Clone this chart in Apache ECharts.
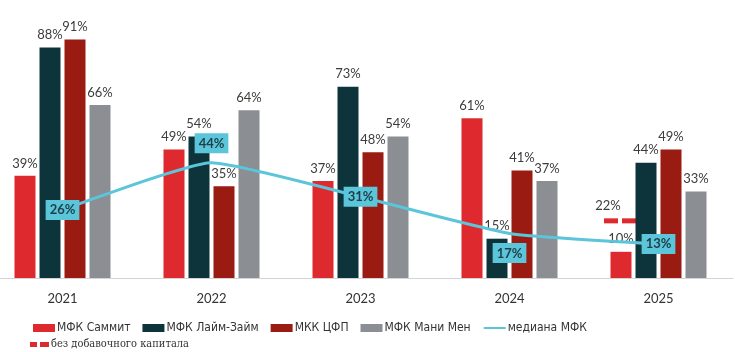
<!DOCTYPE html>
<html>
<head>
<meta charset="utf-8">
<script src="https://cdn.jsdelivr.net/npm/echarts@6/dist/echarts.min.js"></script>
<style>
  html, body { margin: 0; padding: 0; background: #fff; overflow: hidden; }
  #chart { width: 747px; height: 352px; margin-left: -12px; }
</style>
</head>
<body>
<div id="chart"></div>
<script>
const years = ['2021', '2022', '2023', '2024', '2025'];
const summit = [39, 49, 37, 61, 10];
const limeZaim = [88, 54, 73, 15, 44];
const cfp = [91, 35, 48, 41, 49];
const moneyMan = [66, 64, 54, 37, 33];
const median = [26, 44, 31, 17, 13];
const medianLabelPos = ['inside', 'top', 'inside', 'bottom', 'inside'];
const noExtraCapital = [null, null, null, null, 22];

const BAR_W = 21;
const BAR_GAP = 4;

const labelFont = { fontFamily: 'Lato', fontSize: 13, color: '#3c3c3c' };
const narrowFont = "'DejaVu Sans Condensed', 'Liberation Sans Narrow', 'Roboto', sans-serif";

function barSeries(name, data, color) {
  return {
    name: name,
    type: 'bar',
    data: data,
    barWidth: BAR_W,
    barGap: (BAR_GAP / BAR_W * 100) + '%',
    itemStyle: { color: color },
    label: Object.assign({ show: true, position: 'top', distance: 6, formatter: '{c}%' }, labelFont)
  };
}

const chart = echarts.init(document.getElementById('chart'));

chart.setOption({
  animation: false,
  grid: { left: 0, right: 2, top: 16, bottom: 74, containLabel: false },
  xAxis: {
    type: 'category',
    data: years,
    axisLine: { lineStyle: { color: '#d4d4d4', width: 1 } },
    axisTick: { show: false },
    axisLabel: { margin: 14, fontFamily: 'Lato', fontSize: 13, color: '#333' }
  },
  yAxis: { type: 'value', min: 0, max: 100, show: false, splitLine: { show: false } },
  legend: [
    {
      left: 40, top: 317, itemWidth: 22, itemHeight: 8, itemGap: 12,
      textStyle: { fontFamily: narrowFont, fontSize: 12, color: '#333', padding: [0, 0, 0, -3] },
      data: [
        { name: 'МФК Саммит', icon: 'rect' },
        { name: 'МФК Лайм-Займ', icon: 'rect' },
        { name: 'МКК ЦФП', icon: 'rect' },
        { name: 'МФК Мани Мен', icon: 'rect' },
        { name: 'медиана МФК', itemStyle: { opacity: 0 } }
      ]
    },
    {
      left: 37, top: 334, itemWidth: 19, itemHeight: 5,
      textStyle: { fontFamily: "'DejaVu Serif Condensed', 'Liberation Serif', serif", fontSize: 11, color: '#333', padding: [0, 0, 0, -3] },
      data: [{ name: 'без добавочного капитала', icon: 'path://M0,0h7v5h-7z M10,0h9v5h-9z' }]
    }
  ],
  series: [
    barSeries('МФК Саммит', summit, '#de2a2e'),
    barSeries('МФК Лайм-Займ', limeZaim, '#0e343b'),
    barSeries('МКК ЦФП', cfp, '#9a1b12'),
    barSeries('МФК Мани Мен', moneyMan, '#8b8e92'),
    {
      name: 'медиана МФК',
      type: 'line',
      data: median.map((v, i) => ({
        value: v,
        label: { position: medianLabelPos[i] }
      })),
      smooth: 0.15,
      symbol: 'circle',
      symbolSize: 1,
      showSymbol: true,
      z: 5,
      lineStyle: { color: '#5bc5da', width: 3 },
      itemStyle: { color: '#5bc5da' },
      label: {
        show: true,
        formatter: '{c}%',
        distance: 9,
        fontFamily: 'Lato',
        fontWeight: 'bold',
        fontSize: 13,
        color: '#1e3f48',
        backgroundColor: '#5bc5da',
        padding: [4, 4, 3, 4]
      }
    },
    {
      name: 'без добавочного капитала',
      type: 'custom',
      itemStyle: { color: '#de2a2e' },
      data: noExtraCapital.map((v, i) => [i, v]),
      renderItem: function (params, api) {
        const v = api.value(1);
        if (v == null || isNaN(v)) return;
        const p = api.coord([api.value(0), v]);
        // Саммит bar is the first of four bars in the group
        const cx = p[0] - 1.5 * (BAR_W + BAR_GAP);
        const y = p[1] - 2;
        const color = '#de2a2e';
        return {
          type: 'group',
          children: [
            { type: 'rect', shape: { x: cx - 17, y: y, width: 14, height: 5 }, style: { fill: color } },
            { type: 'rect', shape: { x: cx + 1, y: y, width: 15, height: 5 }, style: { fill: color } },
            {
              type: 'text',
              x: cx - 13, y: y - 6,
              style: { text: v + '%', align: 'center', verticalAlign: 'bottom', font: '13px Lato', fill: '#3c3c3c' }
            }
          ]
        };
      }
    }
  ]
});
</script>
</body>
</html>
